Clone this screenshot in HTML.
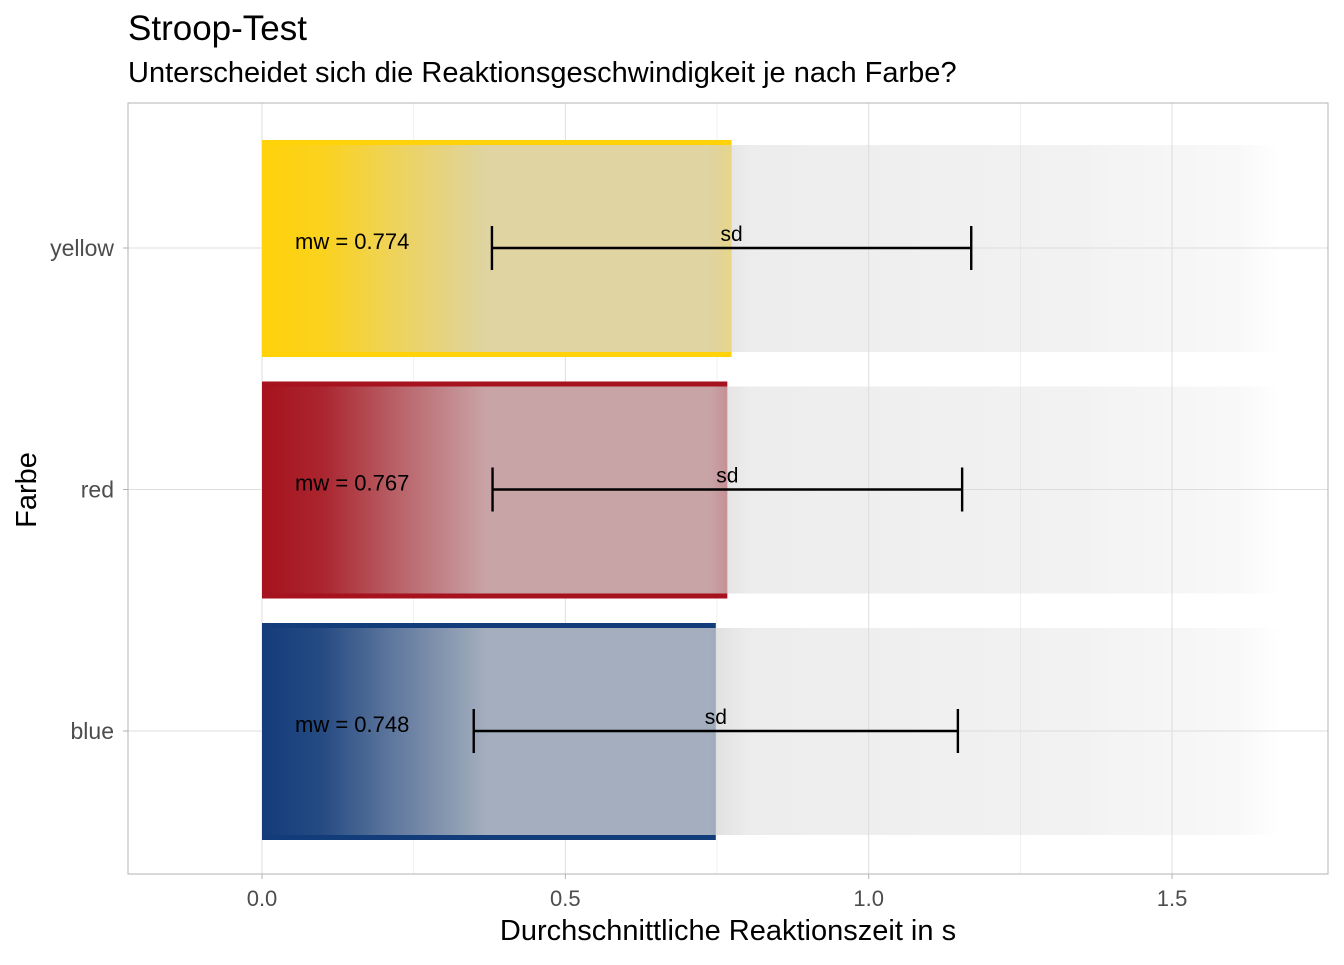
<!DOCTYPE html>
<html><head><meta charset="utf-8"><style>
body{margin:0;background:#fff;}
svg text{font-family:"Liberation Sans",Arial,sans-serif;}
</style></head><body>
<svg id="chart" width="1344" height="960">
<defs>
<linearGradient id="cloud" x1="262" x2="1280" gradientUnits="userSpaceOnUse">
<stop offset="0" stop-color="#d4d4d4" stop-opacity="0"/>
<stop offset="0.06" stop-color="#d4d4d4" stop-opacity="0.1"/>
<stop offset="0.13" stop-color="#d4d4d4" stop-opacity="0.4"/>
<stop offset="0.22" stop-color="#d4d4d4" stop-opacity="0.75"/>
<stop offset="0.44" stop-color="#d4d4d4" stop-opacity="0.75"/>
<stop offset="0.48" stop-color="#dadada" stop-opacity="0.5"/>
<stop offset="0.8" stop-color="#dadada" stop-opacity="0.35"/>
<stop offset="0.96" stop-color="#dadada" stop-opacity="0.18"/>
<stop offset="1" stop-color="#dadada" stop-opacity="0"/>
</linearGradient>
</defs>
<text x="128" y="40" font-size="35" fill="#000">Stroop-Test</text>
<text x="128" y="82" font-size="29" fill="#000">Unterscheidet sich die Reaktionsgeschwindigkeit je nach Farbe?</text>
<g id="grid"></g>
<g id="marks"></g>
<rect x="128" y="103" width="1200" height="771" fill="none" stroke="#b3b3b3" stroke-width="1"/>
<g id="axes"></g>
<text x="728" y="940" font-size="29" text-anchor="middle" fill="#000">Durchschnittliche Reaktionszeit in s</text>
<text transform="translate(36,490) rotate(-90)" font-size="29" text-anchor="middle" fill="#000">Farbe</text>
</svg>
<script>
const categories = ["yellow","red","blue"];
const means = [0.774, 0.767, 0.748];
const sds = [0.395, 0.387, 0.399];
const barColors = ["#FFD20A","#A6121D","#133C7A"];
const xTicks = [0, 0.5, 1.0, 1.5];
const xTickLabels = ["0.0","0.5","1.0","1.5"];
const xMinor = [0.25, 0.75, 1.25];

const NS="http://www.w3.org/2000/svg";
function X(v){return 262 + v*606.7;}
function Y(i){return 248 + i*241.5;}
function mk(tag,attrs,parent,text){const e=document.createElementNS(NS,tag);for(const k in attrs)e.setAttribute(k,attrs[k]);if(text!==undefined)e.textContent=text;parent.appendChild(e);return e;}
const grid=document.getElementById('grid'),marks=document.getElementById('marks'),axes=document.getElementById('axes');
xMinor.forEach(v=>{const l=mk('line',{x1:X(v),x2:X(v),y1:103,y2:874,stroke:'#ececec','stroke-width':0.7},grid);

});
xTicks.forEach((v,i)=>{const l=mk('line',{x1:X(v),x2:X(v),y1:103,y2:874,stroke:'#dedede','stroke-width':1},grid);


const tk=mk('line',{x1:X(v),x2:X(v),y1:874,y2:879,stroke:'#b3b3b3'},axes);


const t=mk('text',{x:X(v),y:906,'font-size':22,'text-anchor':'middle',fill:'#4d4d4d'},axes,xTickLabels[i]);

});
categories.forEach((c,i)=>{const y=Y(i);
const g=mk('line',{x1:128,x2:1328,y1:y,y2:y,stroke:'#dedede'},grid);


const tk=mk('line',{x1:123,x2:128,y1:y,y2:y,stroke:'#b3b3b3'},axes);


const t=mk('text',{x:114,y:y+8,'font-size':23,'text-anchor':'end',fill:'#4d4d4d'},axes,c);


const b=mk('rect',{x:X(0),y:y-108,width:X(means[i])-X(0),height:217,fill:barColors[i]},marks);


const cl=mk('rect',{x:X(0),y:y-103,width:1018,height:207,fill:'url(#cloud)'},marks);


const lo=X(means[i]-sds[i]),hi=X(means[i]+sds[i]);
const eb=mk('path',{d:`M${lo},${y}H${hi}M${lo},${y-22}V${y+22}M${hi},${y-22}V${y+22}`,stroke:'#000','stroke-width':2.4,fill:'none'},marks);


const sl=mk('text',{x:X(means[i]),y:y-7,'font-size':21,'text-anchor':'middle',fill:'#000'},marks,'sd');


const ml=mk('text',{x:295,y:y+1,'font-size':22,fill:'#000'},marks,'mw = '+means[i].toFixed(3));


});
</script>
</body></html>
